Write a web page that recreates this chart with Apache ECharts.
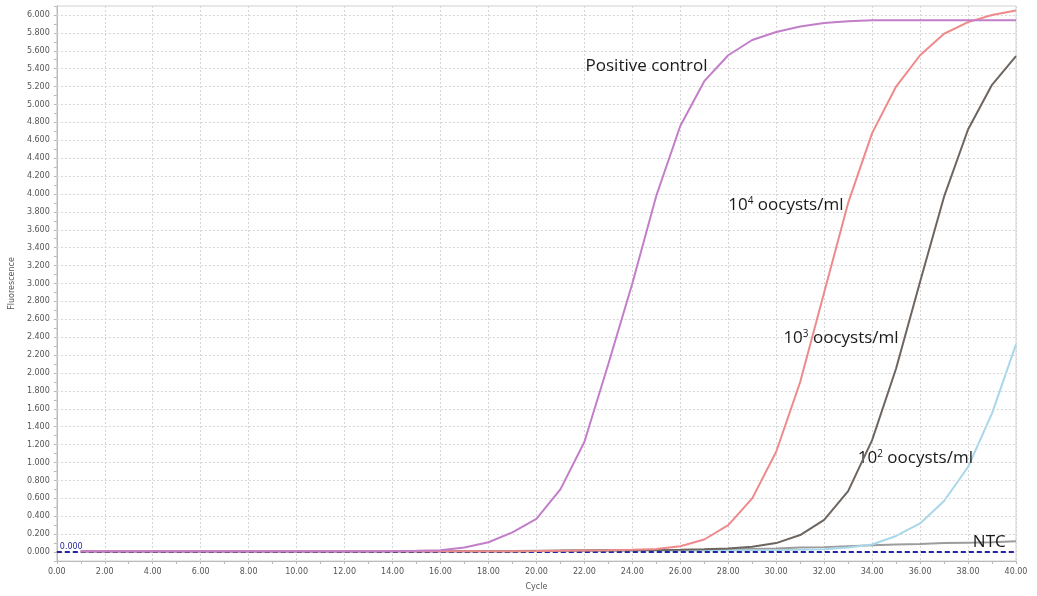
<!DOCTYPE html>
<html>
<head>
<meta charset="utf-8">
<script src="https://cdn.jsdelivr.net/npm/echarts@6/dist/echarts.min.js"></script>
<style>html,body{margin:0;padding:0;background:#fff;}#c{width:1037px;height:596px;}</style>
</head>
<body>
<div id="c"></div>
<script>
// ---- data ----
const cycles = [1,2,3,4,5,6,7,8,9,10,11,12,13,14,15,16,17,18,19,20,21,22,23,24,25,26,27,28,29,30,31,32,33,34,35,36,37,38,39,40];
const positiveControl = [0.01,0.01,0.01,0.01,0.01,0.01,0.01,0.01,0.01,0.01,0.01,0.01,0.01,0.012,0.015,0.02,0.05,0.11,0.22,0.37,0.70,1.23,2.10,3.00,3.98,4.76,5.26,5.55,5.72,5.81,5.87,5.91,5.93,5.94,5.94,5.94,5.94,5.94,5.94,5.94];
const oocysts1e4 = [0.01,0.01,0.01,0.01,0.01,0.01,0.01,0.01,0.01,0.01,0.01,0.01,0.01,0.01,0.01,0.01,0.01,0.01,0.01,0.012,0.015,0.018,0.02,0.025,0.035,0.065,0.14,0.30,0.60,1.12,1.90,2.90,3.90,4.68,5.20,5.55,5.79,5.92,6.00,6.05];
const oocysts1e3 = [0.01,0.01,0.01,0.01,0.01,0.01,0.01,0.01,0.01,0.01,0.01,0.01,0.01,0.01,0.01,0.01,0.01,0.01,0.01,0.012,0.014,0.016,0.018,0.02,0.022,0.025,0.03,0.04,0.06,0.10,0.19,0.36,0.68,1.25,2.05,3.02,3.97,4.72,5.22,5.54];
const oocysts1e2 = [0.01,0.01,0.01,0.01,0.01,0.01,0.01,0.01,0.01,0.01,0.01,0.01,0.01,0.01,0.01,0.01,0.01,0.01,0.01,0.01,0.01,0.012,0.012,0.014,0.014,0.015,0.016,0.018,0.02,0.022,0.025,0.03,0.05,0.085,0.18,0.32,0.57,0.95,1.55,2.32];
const ntc = [0.005,0.005,0.005,0.005,0.005,0.005,0.005,0.005,0.005,0.005,0.006,0.006,0.007,0.008,0.009,0.01,0.011,0.012,0.013,0.015,0.016,0.018,0.02,0.021,0.022,0.024,0.026,0.03,0.035,0.04,0.05,0.055,0.065,0.075,0.085,0.09,0.10,0.105,0.11,0.12];
const threshold = 0.0;
const yTickLabels = ['0.000','0.200','0.400','0.600','0.800','1.000','1.200','1.400','1.600','1.800','2.000','2.200','2.400','2.600','2.800','3.000','3.200','3.400','3.600','3.800','4.000','4.200','4.400','4.600','4.800','5.000','5.200','5.400','5.600','5.800','6.000'];
const seriesNames = ['Positive control','10^4 oocysts/ml','10^3 oocysts/ml','10^2 oocysts/ml','NTC'];
// label anchors (cycle, fluorescence)
const labelAnchors = [[22.05,5.43],[28.0,3.88],[30.3,2.39],[33.4,1.05],[38.2,0.11]];
const labelTexts = ['Positive control','10{s|4} oocysts/ml','10{s|3} oocysts/ml','10{s|2} oocysts/ml','NTC'];

const colors = ['#c27ec8','#ef8a8c','#6d6560','#a9d7ea','#9c9c9c'];
const allData = [positiveControl, oocysts1e4, oocysts1e3, oocysts1e2, ntc];
const yTickValues = yTickLabels.map(Number);

const chart = echarts.init(document.getElementById('c'), null, {renderer:'canvas'});
const axisFont = {fontFamily:'DejaVu Sans', fontSize:8, color:'#555'};
const gridLineStyle = {color: '#d6d6d6', type: [2,2], width: 1};

const series = [];
// horizontal grid lines at labelled ticks
series.push({
  name: 'grid', type: 'line', data: [], symbol: 'none', z: 1, silent: true,
  markLine: {
    silent: true, symbol: 'none', animation: false,
    data: yTickValues.map(v => ({yAxis: v})),
    lineStyle: gridLineStyle,
    label: {show: false}
  }
});
allData.forEach((arr, i) => series.push({
  name: seriesNames[i],
  type: 'line',
  data: cycles.map((c, k) => [c, arr[k]]),
  symbol: 'none',
  lineStyle: {color: colors[i], width: 2},
  itemStyle: {color: colors[i]},
  z: 3 + (4 - i),
  markPoint: {
    symbol: 'circle', symbolSize: 0, silent: true,
    data: [{coord: labelAnchors[i]}],
    label: {
      show: true, position: 'right', distance: 0,
      formatter: labelTexts[i],
      fontFamily: 'Open Sans', fontSize: 17, color: '#1a1a1a',
      rich: {s: {fontFamily:'Open Sans', fontSize: 10, verticalAlign: 'top', color:'#1a1a1a', padding:[0,0,8,0]}}
    }
  }
}));

series.push({
  name: 'threshold', type: 'line', data: [], symbol: 'none',
  markLine: {
    silent: true, symbol: 'none',
    data: [{yAxis: threshold}],
    lineStyle: {type: [5,3], color: '#23239a', width: 2},
    label: {show: true, position: 'insideStartTop', formatter: '0.000', fontFamily:'DejaVu Sans', fontSize: 8, color: '#2a2aa0', distance: [3, 1]}
  },
  z: 10
});

chart.setOption({
  animation: false,
  backgroundColor: '#fff',
  grid: {left: 53, right: 21, top: 6, bottom: 31, show: true, borderColor: '#d0d0d0', borderWidth: 1},
  xAxis: {
    type: 'value', min: 0, max: 40, interval: 2,
    name: 'Cycle', nameLocation: 'middle', nameGap: 22,
    nameTextStyle: {fontFamily:'DejaVu Sans', fontSize: 8, color:'#555'},
    axisLine: {show: true, onZero: false, lineStyle: {color: '#bbb'}},
    axisTick: {show: true, length: 3, lineStyle: {color: '#bbb'}},
    minorTick: {show: true, splitNumber: 2, length: 3, lineStyle: {color: '#bbb'}},
    axisLabel: Object.assign({margin: 7, formatter: v => v.toFixed(2)}, axisFont),
    splitLine: {show: true, lineStyle: gridLineStyle}
  },
  yAxis: {
    type: 'value', min: -0.1, max: 6.1, interval: 0.1,
    name: 'Fluorescence', nameLocation: 'middle', nameGap: 40,
    nameTextStyle: {fontFamily:'DejaVu Sans', fontSize: 8, color:'#555'},
    axisLine: {show: true, lineStyle: {color: '#bbb'}},
    axisTick: {show: true, length: 3, lineStyle: {color: '#bbb'}},
    axisLabel: Object.assign({margin: 7, showMinLabel: true, showMaxLabel: true, hideOverlap: false,
      formatter: v => { const n = Math.round(v * 10); return (n >= 0 && n <= 60 && n % 2 === 0) ? yTickLabels[n/2] : ''; }}, axisFont),
    splitLine: {show: false}
  },
  series: series
});
</script>
</body>
</html>
